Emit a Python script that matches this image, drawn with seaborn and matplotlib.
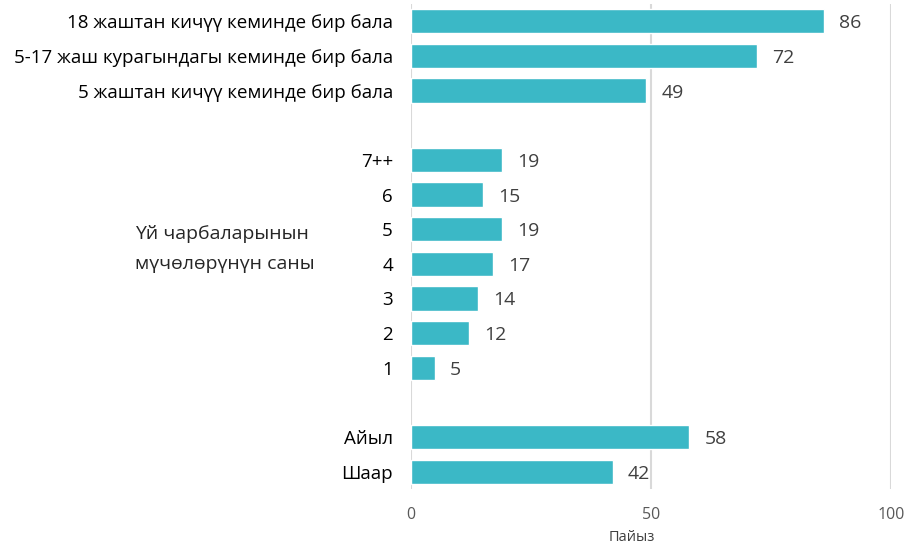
import pandas as pd
import matplotlib.pyplot as plt
import seaborn as sns

# data
child_labels = ["18 жаштан кичүү кеминде бир бала",
                "5-17 жаш курагындагы кеминде бир бала",
                "5 жаштан кичүү кеминде бир бала"]
child_values = [86, 72, 49]

size_labels = ["7++", "6", "5", "4", "3", "2", "1"]
size_values = [19, 15, 19, 17, 14, 12, 5]

area_labels = ["Айыл", "Шаар"]
area_values = [58, 42]

group_title = "Үй чарбаларынын\nмүчөлөрүнүн саны"

df = pd.DataFrame({
    "cat": child_labels + size_labels + area_labels,
    "val": child_values + size_values + area_values,
})
# blank slots give the gaps between the groups
order = child_labels + [" "] + size_labels + ["  "] + area_labels

sns.set_style("white")
plt.rcParams["font.family"] = ["Open Sans", "DejaVu Sans"]

fig = plt.figure(figsize=(9.1, 5.48), dpi=100)
ax = fig.add_axes([0.4516, 0.1077, 0.5275, 0.885])

sns.barplot(data=df, y="cat", x="val", order=order, color="#3BB8C6",
            saturation=1, width=0.7, ax=ax)

ax.set_xlim(0, 100)
ax.set_xticks([0, 50, 100])
ax.xaxis.grid(True, color="#d9d9d9", linewidth=1.5)
ax.set_axisbelow(True)
for s in ax.spines.values():
    s.set_visible(False)
ax.tick_params(axis="x", length=0, labelsize=11.5, labelcolor="#595959", pad=13)
ax.tick_params(axis="y", length=0, labelsize=13.5, labelcolor="black", pad=13)
ax.set_ylabel("")
ax.set_xlabel("Пайыз", fontsize=10.5, color="#404040", labelpad=6)
ax.xaxis.set_label_coords(0.46, -0.085)

for c in ax.containers:
    labels = ax.bar_label(c, fmt="%g", padding=11, fontsize=14, color="#404040")
    for t in labels:
        t.set_va("center_baseline")

fig.text(135 / 910, 1 - 249 / 548, group_title, fontsize=14,
         ha="left", va="center", linespacing=1.85)

fig.savefig("out.png", dpi=100)
